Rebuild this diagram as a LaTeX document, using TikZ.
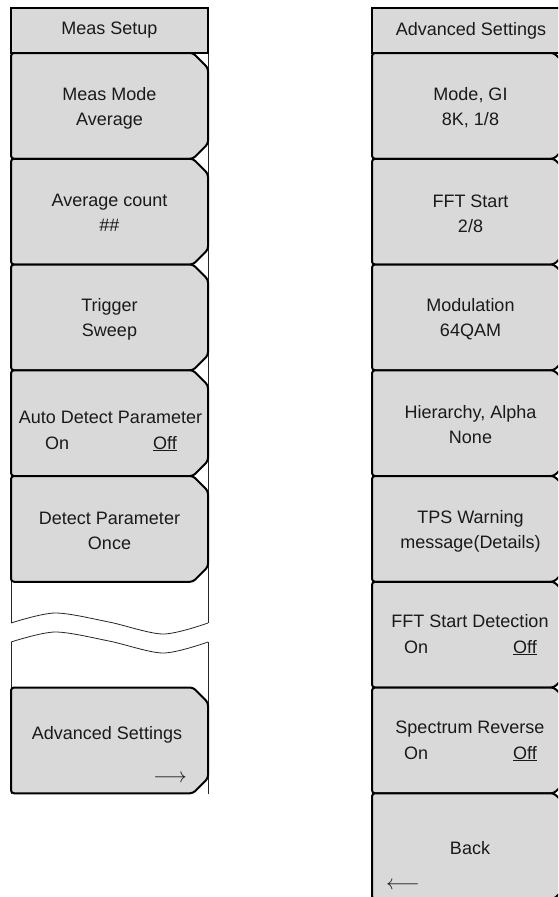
\documentclass[tikz,border=0pt]{standalone}
\usepackage{fontspec}
\setmainfont{Liberation Sans}
\definecolor{keygray}{HTML}{D9D9D9}
\definecolor{keyink}{HTML}{1A1A1A}
\tikzset{
    softkey/.style={draw=black, line width=2pt, fill=keygray, rounded corners=3pt},
    heading/.style={draw=black, line width=1.8pt, fill=keygray},
    frameline/.style={draw=black!85, line width=0.8pt},
    keytext/.style={font=\fontsize{18}{25}\selectfont, align=center, text=keyink},
    keyarrow/.style={font=\fontsize{21}{25}\selectfont, text=keyink, inner sep=0pt},
}
\begin{document}
\begin{tikzpicture}[x=1pt,y=-1pt]
        \useasboundingbox (0,0) rectangle (558,897);
        \clip (0,0) rectangle (558,897);

        % ~~~~ Marcos ~~~~ %
        \draw[frameline] (11,53) -- (11,623) (208,53) -- (208,623);
        \draw[frameline] (11,642) -- (11,794) (208,642) -- (208,794);
        \draw[frameline] (372,53) -- (372,897) (569,53) -- (569,897);

        % ~~~~ Corte ~~~~ %
        \draw[frameline] plot[smooth] coordinates {(11,623) (55,613) (109,622) (163,634) (208,623)};
        \draw[frameline] plot[smooth] coordinates {(11,642) (55,632) (109,641) (163,653) (208,642)};

        % ~~~~ Teclas ~~~~ %
        \draw[heading] (11,8) rectangle (208,53);
        \draw[heading] (372,8) rectangle (569,53);
        \foreach \k in {0,1,2,3,4,6}{
            \pgfmathsetmacro\t{53+\k*105.75}
            \pgfmathsetmacro\b{\t+105.75}
            \draw[softkey] (11,\t) -- (193,\t) -- (208,\t+15) -- (208,\b-15) -- (193,\b) -- (11,\b) -- cycle;
        }
        \foreach \k in {0,...,7}{
            \pgfmathsetmacro\t{53+\k*105.75}
            \pgfmathsetmacro\b{\t+105.75}
            \draw[softkey] (372,\t) -- (554,\t) -- (569,\t+15) -- (569,\b-15) -- (554,\b) -- (372,\b) -- cycle;
        }

        % ~~~~ Meas Setup ~~~~ %
        \node[keytext] (headmeas) at (109.5,30.5) {Meas Setup};
        \node[keytext] (measmode) at (109.5,108) {Meas Mode\\Average};
        \node[keytext] (avgcount) at (109.5,213) {Average count\\\#\#};
        \node[keytext] (trigger) at (109.5,319.5) {Trigger\\Sweep};
        \node[keytext, anchor=base] (autodetect) at (110.5,423) {Auto Detect Parameter};
        \node[keytext, anchor=base west, inner sep=0pt] (autoon) at (45,449) {On};
        \node[keytext, anchor=base west, inner sep=0pt] (autooff) at (153,449) {\underline{Off}};
        \node[keytext] (detectonce) at (109.5,531) {Detect Parameter\\Once};
        \node[keytext] (advset) at (107,735) {Advanced Settings};
        \node[keyarrow, anchor=east] (advarrow) at (187,779) {$\longrightarrow$};

        % ~~~~ Advanced Settings ~~~~ %
        \node[keytext] (headadv) at (471,30.5) {Advanced Settings};
        \node[keytext] (modegi) at (470.5,108) {Mode, GI\\8K, 1/8};
        \node[keytext] (fftstart) at (470.5,213.5) {FFT Start\\2/8};
        \node[keytext] (modulation) at (470.5,319.5) {Modulation\\64QAM};
        \node[keytext] (hierarchy) at (470.5,425) {Hierarchy, Alpha\\None};
        \node[keytext] (tpswarn) at (470.5,531) {TPS Warning\\message(Details)};
        \node[keytext, anchor=base] (fftdetect) at (470,627) {FFT Start Detection};
        \node[keytext, anchor=base west, inner sep=0pt] (fftdon) at (404,653) {On};
        \node[keytext, anchor=base west, inner sep=0pt] (fftdoff) at (513,653) {\underline{Off}};
        \node[keytext, anchor=base] (specrev) at (470,733) {Spectrum Reverse};
        \node[keytext, anchor=base west, inner sep=0pt] (specon) at (404,759) {On};
        \node[keytext, anchor=base west, inner sep=0pt] (specoff) at (513,759) {\underline{Off}};
        \node[keytext] (back) at (470,848) {Back};
        \node[keyarrow, anchor=west] (backarrow) at (386,886) {$\longleftarrow$};
    \end{tikzpicture}
\end{document}
